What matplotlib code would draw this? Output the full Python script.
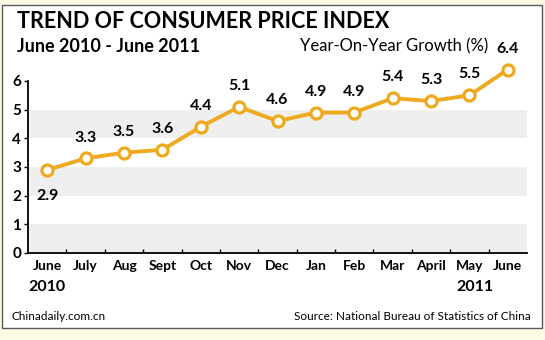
import matplotlib.pyplot as plt
from matplotlib.patches import Rectangle

months = ['June', 'July', 'Aug', 'Sept', 'Oct', 'Nov', 'Dec', 'Jan', 'Feb',
          'Mar', 'April', 'May', 'June']
cpi = [2.9, 3.3, 3.5, 3.6, 4.4, 5.1, 4.6, 4.9, 4.9, 5.4, 5.3, 5.5, 6.4]
yticks = [0, 1, 2, 3, 4, 5, 6]

plt.rcParams['font.family'] = ['Lato', 'DejaVu Sans']

fig = plt.figure(figsize=(5.45, 3.4), dpi=100)
fig.patch.set_facecolor('#fefbe4')

# panneau blanc avec bordure
panel = Rectangle((2 / 545, 1 - 328 / 340), 540 / 545, 323 / 340,
                  transform=fig.transFigure, facecolor='white',
                  edgecolor='#5a5a5a', linewidth=1.0, zorder=-5)
fig.patches.append(panel)

ax = fig.add_axes([28 / 545, 1 - 253 / 340, 499 / 545, 172 / 340])
ax.set_facecolor('none')

# bandes grises
for lo in [0, 2, 4]:
    ax.axhspan(lo, lo + 1, color='#efefef', zorder=0, linewidth=0)

x = list(range(len(cpi)))
ax.plot(x, cpi, color='#efa91f', linewidth=2.8, marker='o', markersize=8,
        markerfacecolor='white', markeredgecolor='#efa91f',
        markeredgewidth=2.3, clip_on=False, zorder=3)

for i, v in enumerate(cpi):
    dy = -19 if i == 0 else 15
    ax.annotate(f'{v}', (i, v), xytext=(0, dy), textcoords='offset points',
                ha='center', va='center', fontsize=11.5, fontweight='bold',
                annotation_clip=False)

ax.set_xlim(-0.5, 12.5)
ax.set_ylim(0, 6)
ax.set_yticks(yticks)
ax.set_yticklabels([str(t) for t in yticks], fontsize=11, fontweight='bold')
ax.set_xticks(x)
ax.set_xticklabels(months, fontsize=10, fontweight='bold')
ax.tick_params(axis='x', length=0, pad=5)
ax.set_xticks([i + 0.5 for i in range(12)], minor=True)
ax.tick_params(axis='x', which='minor', direction='in', length=3, width=1)
ax.tick_params(axis='y', length=3, width=1, pad=2)
for s in ['top', 'right']:
    ax.spines[s].set_visible(False)
for s in ['left', 'bottom']:
    ax.spines[s].set_linewidth(1.3)

ax.text(0, -0.2, '2010', transform=ax.get_xaxis_transform(), ha='center',
        va='center', fontsize=11.5, fontweight='bold')
ax.text(11.15, -0.2, '2011', transform=ax.get_xaxis_transform(), ha='center',
        va='center', fontsize=11.5, fontweight='bold')

fig.text(17 / 545, 1 - 22 / 340, 'TREND OF CONSUMER PRICE INDEX',
         fontsize=15.5, fontweight='bold', va='center', ha='left')
fig.text(17 / 545, 1 - 47 / 340, 'June 2010 - June 2011',
         fontsize=13, fontweight='bold', va='center', ha='left')
fig.text(488 / 545, 1 - 46 / 340, 'Year-On-Year Growth (%)',
         fontsize=12, va='center', ha='right')
fig.text(12 / 545, 1 - 316 / 340, 'Chinadaily.com.cn',
         fontsize=8.5, va='center', ha='left')
fig.text(531 / 545, 1 - 316 / 340, 'Source: National Bureau of Statistics of China',
         fontsize=8.5, va='center', ha='right')

fig.savefig('out.png', dpi=100, facecolor=fig.get_facecolor())
